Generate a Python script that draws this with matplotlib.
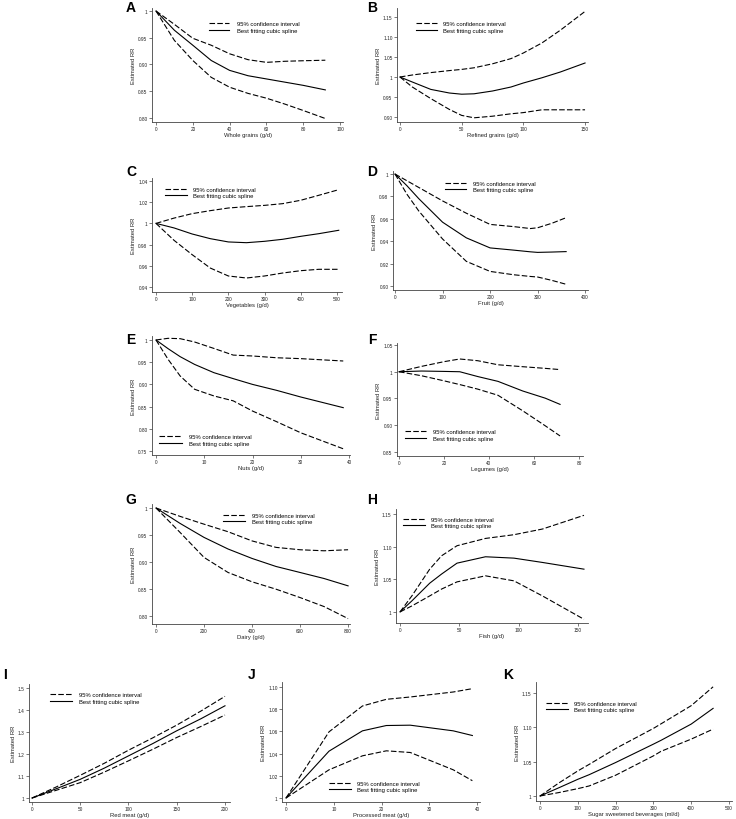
import matplotlib
matplotlib.use("Agg")
import matplotlib.pyplot as plt

plt.rcParams['font.family'] = ['Liberation Sans', 'DejaVu Sans']

LEG_CI = "95% confidence interval"
LEG_SP = "Best fitting cubic spline"

# ---------------- data ----------------
# A Whole grains
a_x = [0, 10, 20, 30, 40, 50, 60, 70, 80, 92]
a_up = [1.0, 0.975, 0.949, 0.936, 0.920, 0.909, 0.904, 0.906, 0.907, 0.908]
a_sp = [1.0, 0.964, 0.936, 0.9075, 0.889, 0.879, 0.873, 0.867, 0.861, 0.8525]
a_lo = [1.0, 0.945, 0.9075, 0.876, 0.8575, 0.846, 0.837, 0.826, 0.814, 0.799]

# B Refined grains
b_x = [0, 10, 25, 40, 50, 60, 75, 90, 100, 115, 130, 150]
b_up = [1.0, 1.005, 1.011, 1.016, 1.019, 1.023, 1.033, 1.046, 1.06, 1.085, 1.117, 1.164]
b_sp = [1.0, 0.9875, 0.969, 0.96, 0.957, 0.958, 0.965, 0.975, 0.985, 0.998, 1.0125, 1.035]
b_lo = [1.0, 0.975, 0.946, 0.919, 0.904, 0.898, 0.902, 0.908, 0.911, 0.918, 0.918, 0.918]

# C Vegetables
c_x = [0, 50, 100, 150, 200, 250, 300, 350, 400, 450, 505]
c_up = [1.0, 1.005, 1.0092, 1.012, 1.0145, 1.0158, 1.017, 1.0186, 1.0218, 1.0265, 1.0318]
c_sp = [1.0, 0.9957, 0.990, 0.9856, 0.9825, 0.9818, 0.9831, 0.985, 0.9878, 0.9903, 0.9935]
c_lo = [1.0, 0.984, 0.9705, 0.9579, 0.9504, 0.9485, 0.9504, 0.9532, 0.9554, 0.9567, 0.9567]

# D Fruit
d_x = [0, 25, 50, 100, 150, 200, 250, 285, 300, 330, 360]
d_up = [1.0, 0.994, 0.988, 0.976, 0.965, 0.955, 0.953, 0.9513, 0.952, 0.956, 0.961]
d_sp = [1.0, 0.9896, 0.978, 0.957, 0.943, 0.934, 0.932, 0.9305, 0.930, 0.9303, 0.9307]
d_lo = [1.0, 0.982, 0.967, 0.942, 0.922, 0.913, 0.910, 0.9085, 0.908, 0.905, 0.9015]

# E Nuts
e_x = [0, 2.5, 5, 8, 12, 16, 20, 25, 30, 38.8]
e_up = [1.0, 1.0038, 1.003, 0.9955, 0.981, 0.966, 0.964, 0.960, 0.958, 0.9527]
e_sp = [1.0, 0.9805, 0.9625, 0.945, 0.9264, 0.913, 0.900, 0.8866, 0.8716, 0.8476]
e_lo = [1.0, 0.9565, 0.919, 0.889, 0.874, 0.863, 0.840, 0.816, 0.791, 0.755]

# F Legumes
f_x = [0, 10, 20, 27, 35, 44, 55, 65, 71.6]
f_up = [1.0, 1.01, 1.0188, 1.0238, 1.0206, 1.013, 1.0094, 1.0063, 1.004]
f_sp = [1.0, 1.0013, 1.0006, 1.0, 0.991, 0.982, 0.964, 0.9506, 0.939]
f_lo = [1.0, 0.9925, 0.983, 0.976, 0.9675, 0.956, 0.927, 0.899, 0.880]

# G Dairy
g_x = [0, 100, 200, 300, 400, 500, 600, 700, 800]
g_up = [1.0, 0.9845, 0.970, 0.956, 0.939, 0.927, 0.9226, 0.9207, 0.9226]
g_sp = [1.0, 0.9715, 0.9455, 0.924, 0.9065, 0.8916, 0.8805, 0.8693, 0.8557]
g_lo = [1.0, 0.9548, 0.9084, 0.8805, 0.8632, 0.8495, 0.834, 0.8173, 0.795]

# H Fish
h_x = [0, 10, 25, 35, 48, 72, 96, 120, 155]
h_up = [1.0, 1.0246, 1.0655, 1.086, 1.1014, 1.1126, 1.1183, 1.127, 1.148]
h_sp = [1.0, 1.0169, 1.044, 1.058, 1.0747, 1.0845, 1.0824, 1.0758, 1.0655]
h_lo = [1.0, 1.0092, 1.0245, 1.035, 1.046, 1.0553, 1.0476, 1.0245, 0.9887]

# I Red meat
i_x = [0, 25, 50, 75, 100, 125, 150, 175, 200]
i_up = [1.0, 1.05, 1.1033, 1.158, 1.2173, 1.273, 1.3313, 1.395, 1.462]
i_sp = [1.0, 1.042, 1.085, 1.136, 1.1915, 1.247, 1.3055, 1.36, 1.419]
i_lo = [1.0, 1.035, 1.070, 1.118, 1.169, 1.221, 1.275, 1.325, 1.377]

# J Processed meat
j_x = [0, 9, 16, 21, 26, 35, 39]
j_up = [1.0, 1.0596, 1.0829, 1.0889, 1.091, 1.0955, 1.0985]
j_sp = [1.0, 1.0422, 1.0605, 1.0653, 1.0656, 1.0605, 1.0563]
j_lo = [1.0, 1.0254, 1.038, 1.0425, 1.041, 1.0254, 1.0156]

# K Sugar sweetened beverages
k_x = [0, 50, 100, 130, 200, 300, 320, 400, 458]
k_up = [1.0, 1.019, 1.0365, 1.046, 1.0691, 1.0984, 1.105, 1.1315, 1.159]
k_sp = [1.0, 1.012, 1.0243, 1.031, 1.0487, 1.0755, 1.081, 1.1047, 1.1276]
k_lo = [1.0, 1.005, 1.0107, 1.0146, 1.0302, 1.0584, 1.065, 1.0828, 1.0974]

# ticks
a_xt = [0, 20, 40, 60, 80, 100]; a_yt = [0.80, 0.85, 0.90, 0.95, 1.0]
a_ytl = ["0.80", "0.85", "0.90", "0.95", "1"]
b_xt = [0, 50, 100, 150]; b_yt = [0.90, 0.95, 1.0, 1.05, 1.10, 1.15]
b_ytl = ["0.90", "0.95", "1", "1.05", "1.10", "1.15"]
c_xt = [0, 100, 200, 300, 400, 500]; c_yt = [0.94, 0.96, 0.98, 1.0, 1.02, 1.04]
c_ytl = ["0.94", "0.96", "0.98", "1", "1.02", "1.04"]
d_xt = [0, 100, 200, 300, 400]; d_yt = [0.90, 0.92, 0.94, 0.96, 0.98, 1.0]
d_ytl = ["0.90", "0.92", "0.94", "0.96", "0.98", "1"]
e_xt = [0, 10, 20, 30, 40]; e_yt = [0.75, 0.80, 0.85, 0.90, 0.95, 1.0]
e_ytl = ["0.75", "0.80", "0.85", "0.90", "0.95", "1"]
f_xt = [0, 20, 40, 60, 80]; f_yt = [0.85, 0.90, 0.95, 1.0, 1.05]
f_ytl = ["0.85", "0.90", "0.95", "1", "1.05"]
g_xt = [0, 200, 400, 600, 800]; g_yt = [0.80, 0.85, 0.90, 0.95, 1.0]
g_ytl = ["0.80", "0.85", "0.90", "0.95", "1"]
h_xt = [0, 50, 100, 150]; h_yt = [1.0, 1.05, 1.10, 1.15]
h_ytl = ["1", "1.05", "1.10", "1.15"]
i_xt = [0, 50, 100, 150, 200]; i_yt = [1.0, 1.1, 1.2, 1.3, 1.4, 1.5]
i_ytl = ["1", "1.1", "1.2", "1.3", "1.4", "1.5"]
j_xt = [0, 10, 20, 30, 40]; j_yt = [1.0, 1.02, 1.04, 1.06, 1.08, 1.10]
j_ytl = ["1", "1.02", "1.04", "1.06", "1.08", "1.10"]
k_xt = [0, 100, 200, 300, 400, 500]; k_yt = [1.0, 1.05, 1.10, 1.15]
k_ytl = ["1", "1.05", "1.10", "1.15"]

# ---------------- drawing ----------------
W, H = 736, 820
fig = plt.figure(figsize=(W / 100, H / 100), dpi=100)
FS_PX = 4.2 * 100 / 72

def panel(letter, box, xlim, ylim, x, up, sp, lo, xt, yt, ytl, xlabel,
          leg, letter_xy):
    l, r, t, b = box
    ax = fig.add_axes([l / W, 1 - b / H, (r - l) / W, (b - t) / H])
    dash = (0, (5, 2))
    ax.plot(x, up, color='black', lw=0.8, ls=dash, label=LEG_CI)
    ax.plot(x, sp, color='black', lw=0.8, ls='-', label=LEG_SP)
    ax.plot(x, lo, color='black', lw=0.8, ls=dash)
    ax.set_xlim(*xlim)
    ax.set_ylim(*ylim)
    ax.set_xticks(xt)
    ax.set_xticklabels([str(v) for v in xt])
    ax.set_yticks(yt)
    ax.set_yticklabels(ytl)
    for s in ['top', 'right']:
        ax.spines[s].set_visible(False)
    for s in ['left', 'bottom']:
        ax.spines[s].set_linewidth(0.6)
        ax.spines[s].set_color('#444444')
    ax.tick_params(axis='both', direction='out', length=2, width=0.5,
                   color='#444444', labelsize=3.4, pad=1.2,
                   labelcolor='#222222')
    ax.set_xlabel(xlabel, fontsize=4.2, labelpad=0.5, color='#222222')
    ax.set_ylabel("Estimated RR", fontsize=4.2, labelpad=1.5, color='#222222')
    hx, hlen, tx, y1, y2 = leg
    ax.legend(loc='center left',
              bbox_to_anchor=(hx / W, 1 - ((y1 + y2) / 2) / H),
              bbox_transform=fig.transFigure, frameon=False,
              fontsize=4.2, borderpad=0, borderaxespad=0,
              handlelength=hlen / FS_PX,
              handletextpad=(tx - hx - hlen) / FS_PX,
              labelspacing=0.25)
    fig.text(letter_xy[0] / W, 1 - letter_xy[1] / H, letter, fontsize=10,
             fontweight='bold', ha='center', va='center')
    return ax

panel("A", (152, 343, 9, 123), (-2.17, 101.6), (0.7925, 1.0056),
      a_x, a_up, a_sp, a_lo, a_xt, a_yt, a_ytl, "Whole grains (g/d)",
      (209, 20, 237, 24, 32), (131, 8))
panel("B", (397, 588, 9, 123), (-2.4, 152.4), (0.8875, 1.1725),
      b_x, b_up, b_sp, b_lo, b_xt, b_yt, b_ytl, "Refined grains (g/d)",
      (416, 21, 443, 24, 32), (372, 8))
panel("C", (152, 342, 179, 293), (-11, 514), (0.9353, 1.0428),
      c_x, c_up, c_sp, c_lo, c_xt, c_yt, c_ytl, "Vegetables (g/d)",
      (165, 22, 193, 189, 198), (131, 172))
panel("D", (393, 588, 172, 291), (-4.2, 406), (0.8964, 1.0027),
      d_x, d_up, d_sp, d_lo, d_xt, d_yt, d_ytl, "Fruit (g/d)",
      (445, 21, 473, 183, 192), (372, 172))
panel("E", (152, 350, 337, 456), (-0.83, 40.2), (0.741, 1.009),
      e_x, e_up, e_sp, e_lo, e_xt, e_yt, e_ytl, "Nuts (g/d)",
      (159, 23, 189, 437, 445), (131, 340))
panel("F", (397, 583, 344, 457), (-0.9, 81.8), (0.8425, 1.0537),
      f_x, f_up, f_sp, f_lo, f_xt, f_yt, f_ytl, "Legumes (g/d)",
      (405, 21, 433, 432, 440), (372, 340))
panel("G", (152, 350, 505, 625), (-16.7, 808), (0.785, 1.0074),
      g_x, g_up, g_sp, g_lo, g_xt, g_yt, g_ytl, "Dairy (g/d)",
      (223, 22, 252, 515, 524), (131, 500))
panel("H", (396, 588, 510, 624), (-3.4, 158.4), (0.983, 1.1577),
      h_x, h_up, h_sp, h_lo, h_xt, h_yt, h_ytl, "Fish (g/d)",
      (403, 22, 431, 519, 528), (372, 500))
panel("I", (29, 230, 685, 803), (-3.1, 205.2), (0.982, 1.518),
      i_x, i_up, i_sp, i_lo, i_xt, i_yt, i_ytl, "Red meat (g/d)",
      (50, 22, 79, 695, 703), (5, 675))
panel("J", (282, 480, 683, 803), (-0.84, 40.6), (0.9964, 1.1045),
      j_x, j_up, j_sp, j_lo, j_xt, j_yt, j_ytl, "Processed meat (g/d)",
      (329, 22, 357, 783, 792), (252, 675))
panel("K", (536, 732, 683, 802), (-10.6, 508), (0.9927, 1.166),
      k_x, k_up, k_sp, k_lo, k_xt, k_yt, k_ytl, "Sugar sweetened beverages (ml/d)",
      (546, 22, 574, 703, 712), (508, 675))

fig.savefig("out.png", dpi=100)
